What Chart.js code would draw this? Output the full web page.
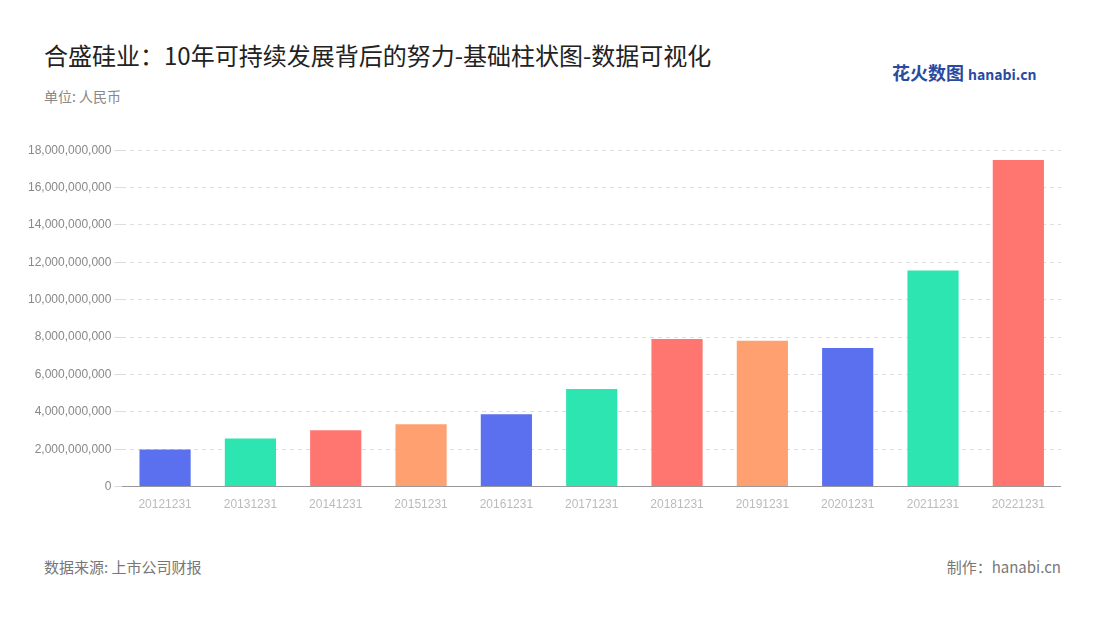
<!DOCTYPE html>
<html><head><meta charset="utf-8">
<script src="https://cdn.jsdelivr.net/npm/chart.js@4/dist/chart.umd.min.js"></script>
<style>
body{margin:0;width:1100px;height:620px;background:#fff;font-family:"Noto Sans CJK SC","Noto Sans",sans-serif;position:relative;overflow:hidden}
.t{position:absolute;white-space:nowrap}
#wrap{position:absolute;left:25px;top:140px;width:1036px;height:375px}
</style></head><body>
<div class="t" style="left:44px;top:37px;font-size:24px;color:#222">合盛硅业：10年可持续发展背后的努力-基础柱状图-数据可视化</div>
<div class="t" style="left:44px;top:86px;font-size:14px;color:#888">单位: 人民币</div>
<div class="t" style="left:892px;top:59px;font-size:18px;font-weight:bold;color:#2a4aa0">花火数图 <span style="font-size:14px">hanabi.cn</span></div>
<div class="t" style="left:44px;top:556px;font-size:15px;color:#777">数据来源: 上市公司财报</div>
<div class="t" style="right:39px;top:556px;font-size:15px;color:#777">制作：hanabi.cn</div>
<div id="wrap"><canvas id="c"></canvas></div>
<script>
const categories=["20121231","20131231","20141231","20151231","20161231","20171231","20181231","20191231","20201231","20211231","20221231"];
const revenue=[1.99e9,2.58e9,3.01e9,3.33e9,3.87e9,5.22e9,7.9e9,7.8e9,7.42e9,11.56e9,17.47e9];
const palette=["#5b70ee","#2de5b0","#ff7570","#ffa070"];
new Chart(document.getElementById('c'),{type:'bar',
data:{labels:categories,datasets:[{data:revenue,backgroundColor:categories.map((_,i)=>palette[i%4]),barPercentage:0.6,categoryPercentage:1}]},
options:{responsive:true,maintainAspectRatio:false,animation:false,
plugins:{legend:{display:false},tooltip:{enabled:false}},
scales:{x:{grid:{display:false},border:{color:'#999'},ticks:{color:'#bbb',font:{size:12}}},
y:{min:0,max:18e9,ticks:{stepSize:2e9,color:'#888',font:{size:12},callback:v=>v.toLocaleString('en-US')},
grid:{color:'#ddd'},border:{display:false,dash:[4,4]}}}}});
</script></body></html>
